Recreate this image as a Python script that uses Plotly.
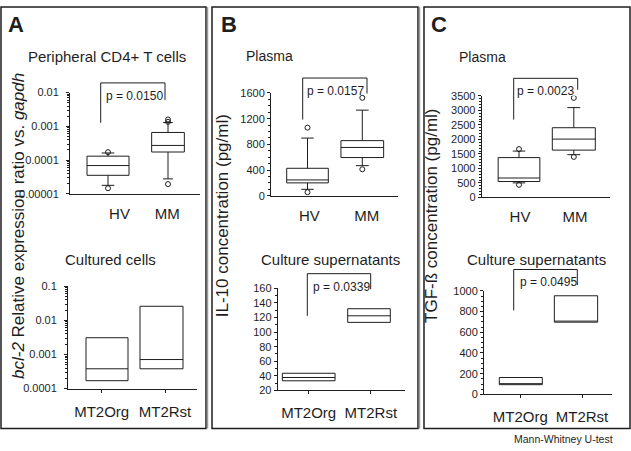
import plotly.graph_objects as go

# ---- data ----
# A: bcl-2 / gapdh ratio
a_top_groups = ["HV", "MM"]
a_top_q1 = [3.55e-5, 1.74e-4]
a_top_median = [6.9e-5, 2.72e-4]
a_top_q3 = [1.31e-4, 6.6e-4]
a_top_low = [1.79e-5, 2.78e-5]
a_top_high = [1.63e-4, 1.30e-3]
a_top_outliers = [[1.72e-4, 1.47e-5], [1.60e-3, 1.36e-3, 1.95e-5]]

a_bot_groups = ["MT2Org", "MT2Rst"]
a_bot_q1 = [1.7e-4, 3.8e-4]
a_bot_median = [3.8e-4, 7.1e-4]
a_bot_q3 = [3.1e-3, 2.6e-2]

# B: IL-10 (pg/ml)
b_top_groups = ["HV", "MM"]
b_top_q1 = [201, 595]
b_top_median = [247, 752]
b_top_q3 = [428, 858]
b_top_low = [101, 469]
b_top_high = [898, 1332]
b_top_outliers = [[1060, 56], [1524, 413]]

b_bot_groups = ["MT2Org", "MT2Rst"]
b_bot_q1 = [33.3, 113.3]
b_bot_median = [37.8, 122.3]
b_bot_q3 = [43.6, 132]

# C: TGF-beta (pg/ml)
c_top_groups = ["HV", "MM"]
c_top_q1 = [549, 1631]
c_top_median = [670, 2010]
c_top_q3 = [1373, 2402]
c_top_low = [503, 1474]
c_top_high = [1598, 3095]
c_top_outliers = [[1665, 436], [3430, 1397]]

c_bot_groups = ["MT2Org", "MT2Rst"]
c_bot_q1 = [94, 698]
c_bot_median = [100, 708]
c_bot_q3 = [163, 953]

p_values = ["p = 0.0150", "p = 0.0157", "p = 0.0339", "p = 0.0023", "p = 0.0495"]

# ---- layout helpers (pixel geometry of the 631x451 page) ----
W, H = 631, 451
FONT = "Liberation Sans, Arial, sans-serif"
INK = "#1e1e1e"


def px(x):
    return x / W


def py(y):
    return 1 - y / H


fig = go.Figure()

LOG_MINOR = dict(ticks="outside", ticklen=2, dtick="D1", tickcolor=INK)

# axis box (x0, x1, ytop, ybottom), box centers, box widths, label positions
subplots = [
    dict(n=1, xs=(70, 200), ys=(89, 193), c=(108, 168), w=(42, 32.7), lab=(119.5, 167.2),
         groups=a_top_groups, q1=a_top_q1, med=a_top_median, q3=a_top_q3,
         lo=a_top_low, hi=a_top_high, out=a_top_outliers,
         yax=dict(type="log", range=[-5, -2], tickvals=[1e-5, 1e-4, 1e-3, 1e-2],
                  ticktext=["0.00001", "0.0001", "0.001", "0.01"], ticklabelstandoff=5,
                  minor=LOG_MINOR)),
    dict(n=2, xs=(68, 197), ys=(288, 393), c=(107, 161.5), w=(42, 43), lab=(101.7, 165),
         groups=a_bot_groups, q1=a_bot_q1, med=a_bot_median, q3=a_bot_q3,
         lo=a_bot_q1, hi=a_bot_q3, out=None,
         yax=dict(type="log", range=[-4, -1], tickvals=[1e-4, 1e-3, 1e-2, 1e-1],
                  ticktext=["0.0001", "0.001", "0.01", "0.1"], ticklabelstandoff=5,
                  minor=LOG_MINOR)),
    dict(n=3, xs=(271, 398), ys=(89.3, 195), c=(307.5, 362.3), w=(41.6, 42.7), lab=(309.3, 366.7),
         groups=b_top_groups, q1=b_top_q1, med=b_top_median, q3=b_top_q3,
         lo=b_top_low, hi=b_top_high, out=b_top_outliers,
         yax=dict(range=[0, 1600], dtick=400, minor=dict(dtick=100, ticks="outside", ticklen=2))),
    dict(n=4, xs=(277.7, 405), ys=(290, 395), c=(308.7, 369), w=(52.7, 42.6), lab=(308.7, 370.8),
         groups=b_bot_groups, q1=b_bot_q1, med=b_bot_median, q3=b_bot_q3,
         lo=b_bot_q1, hi=b_bot_q3, out=None,
         yax=dict(range=[20, 160], dtick=20, minor=dict(dtick=10, ticks="outside", ticklen=2))),
    dict(n=5, xs=(481.7, 610), ys=(92.3, 196.7), c=(519, 573.8), w=(41.7, 43), lab=(520, 575),
         groups=c_top_groups, q1=c_top_q1, med=c_top_median, q3=c_top_q3,
         lo=c_top_low, hi=c_top_high, out=c_top_outliers,
         yax=dict(range=[0, 3500], dtick=500, minor=dict(dtick=100, ticks="outside", ticklen=2))),
    dict(n=6, xs=(484, 611.7), ys=(292.7, 399), c=(520.8, 576), w=(43, 43.3), lab=(520.3, 582),
         groups=c_bot_groups, q1=c_bot_q1, med=c_bot_median, q3=c_bot_q3,
         lo=c_bot_q1, hi=c_bot_q3, out=None,
         yax=dict(range=[0, 1000], dtick=200, minor=dict(dtick=50, ticks="outside", ticklen=2))),
]

for sp in subplots:
    n = sp["n"]
    scale = sp["c"][1] - sp["c"][0]
    xr = [(sp["xs"][0] - sp["c"][0]) / scale, (sp["xs"][1] - sp["c"][0]) / scale]
    xref = "x" if n == 1 else f"x{n}"
    yref = "y" if n == 1 else f"y{n}"
    has_whiskers = sp["out"] is not None
    for i, g in enumerate(sp["groups"]):
        fig.add_trace(go.Box(
            x=[i], q1=[sp["q1"][i]], median=[sp["med"][i]], q3=[sp["q3"][i]],
            lowerfence=[sp["lo"][i]], upperfence=[sp["hi"][i]],
            width=sp["w"][i] / scale, name=g, boxpoints=False,
            fillcolor="white", line=dict(color=INK, width=1),
            whiskerwidth=0.3 if has_whiskers else 0,
            xaxis=xref, yaxis=yref, showlegend=False, hoverinfo="skip",
        ))
        if has_whiskers:
            fig.add_trace(go.Scatter(
                x=[i] * len(sp["out"][i]), y=sp["out"][i], mode="markers",
                marker=dict(symbol="circle-open", size=5, color=INK, line=dict(width=1)),
                xaxis=xref, yaxis=yref, showlegend=False, hoverinfo="skip",
            ))
    key = "" if n == 1 else str(n)
    tickvals = [(p - sp["c"][0]) / scale for p in sp["lab"]]
    fig.layout["xaxis" + key] = dict(
        domain=[px(sp["xs"][0]), px(sp["xs"][1])], range=xr, anchor=yref,
        tickvals=tickvals, ticktext=sp["groups"],
        ticks="outside" if not has_whiskers else "", ticklen=3, tickcolor=INK,
        showline=True, linecolor=INK, linewidth=1, showgrid=False, zeroline=False,
        tickfont=dict(size=15, color=INK), ticklabelstandoff=6, fixedrange=True,
    )
    yax = dict(
        domain=[py(sp["ys"][1]), py(sp["ys"][0])], anchor=xref,
        showline=True, linecolor=INK, linewidth=1, showgrid=False, zeroline=False,
        ticks="outside", ticklen=3, tickcolor=INK,
        tickfont=dict(size=11, color=INK), fixedrange=True,
    )
    yax.update(sp["yax"])
    fig.layout["yaxis" + key] = yax

shapes = []
# panel frames
for x0, x1 in [(1, 206), (212, 418), (424, 630)]:
    shapes.append(dict(type="rect", xref="paper", yref="paper",
                       x0=px(x0), x1=px(x1), y0=py(434), y1=py(1),
                       line=dict(color=INK, width=1.5)))
for xg in [207.5, 419.5]:
    shapes.append(dict(type="line", xref="paper", yref="paper",
                       x0=px(xg), x1=px(xg), y0=py(434), y1=py(1),
                       line=dict(color="#9a9a9a", width=1.5)))

# significance brackets: left x, left bottom y, top y, right x, right bottom y, text x, text y
brackets = [
    (100.7, 120, 79, 165, 96.7, 104, 92),
    (302.7, 116.7, 74, 367, 90, 305, 87.3),
    (307.3, 318.3, 275, 370.7, 291, 311, 288.3),
    (513.7, 116.7, 74.3, 577.7, 86, 515, 87.3),
    (513.7, 312.7, 270.7, 577.3, 286.7, 517.7, 283.3),
]
annotations = []
for (xl, yl, yt, xr_, yr, tx, ty), ptxt in zip(brackets, p_values):
    shapes.append(dict(type="path", xref="paper", yref="paper",
                       path=f"M {px(xl)} {py(yl)} L {px(xl)} {py(yt)} L {px(xr_)} {py(yt)} L {px(xr_)} {py(yr)}",
                       line=dict(color=INK, width=1)))
    annotations.append(dict(text=ptxt, x=px(tx), y=py(ty), xref="paper", yref="paper",
                            xanchor="left", yanchor="middle", showarrow=False,
                            font=dict(size=12, color=INK)))


def label(text, x, y, size, anchor="center", angle=0, bold=False):
    annotations.append(dict(
        text=f"<b>{text}</b>" if bold else text, x=px(x), y=py(y),
        xref="paper", yref="paper", xanchor=anchor, yanchor="middle",
        showarrow=False, textangle=angle, font=dict(size=size, color=INK)))


label("A", 15.8, 18.5, 22, bold=True)
label("B", 229, 18.5, 22, bold=True)
label("C", 439, 18.5, 22, bold=True)

label("Peripheral CD4+ T cells", 106.7, 51.7, 15)
label("Cultured cells", 110, 260.7, 15)
label("Plasma", 244.3, 51.5, 14, anchor="left")
label("Culture supernatants", 330, 260.7, 15)
label("Plasma", 456.7, 52.5, 14, anchor="left")
label("Culture supernatants", 536.7, 260.7, 15)

label("<i>bcl-2</i> Relative expression ratio vs. <i>gapdh</i>", 19, 226, 17, angle=-90)
label("IL-10 concentration (pg/ml)", 222, 216, 17, angle=-90)
label("TGF-ß concentration (pg/ml)", 431.7, 216, 17, angle=-90)

label("Mann-Whitney U-test", 563.3, 445, 10.5)

fig.update_layout(
    width=W, height=H,
    margin=dict(l=0, r=0, t=0, b=0),
    paper_bgcolor="white", plot_bgcolor="white",
    font=dict(family=FONT, color=INK),
    showlegend=False,
    boxmode="overlay",
    shapes=shapes,
    annotations=annotations,
)

# the default page body has an 8px margin; drop it so the figure fills the window
fig.write_html("out.html", config={"displayModeBar": False},
               post_script="document.body.style.margin='0';")
